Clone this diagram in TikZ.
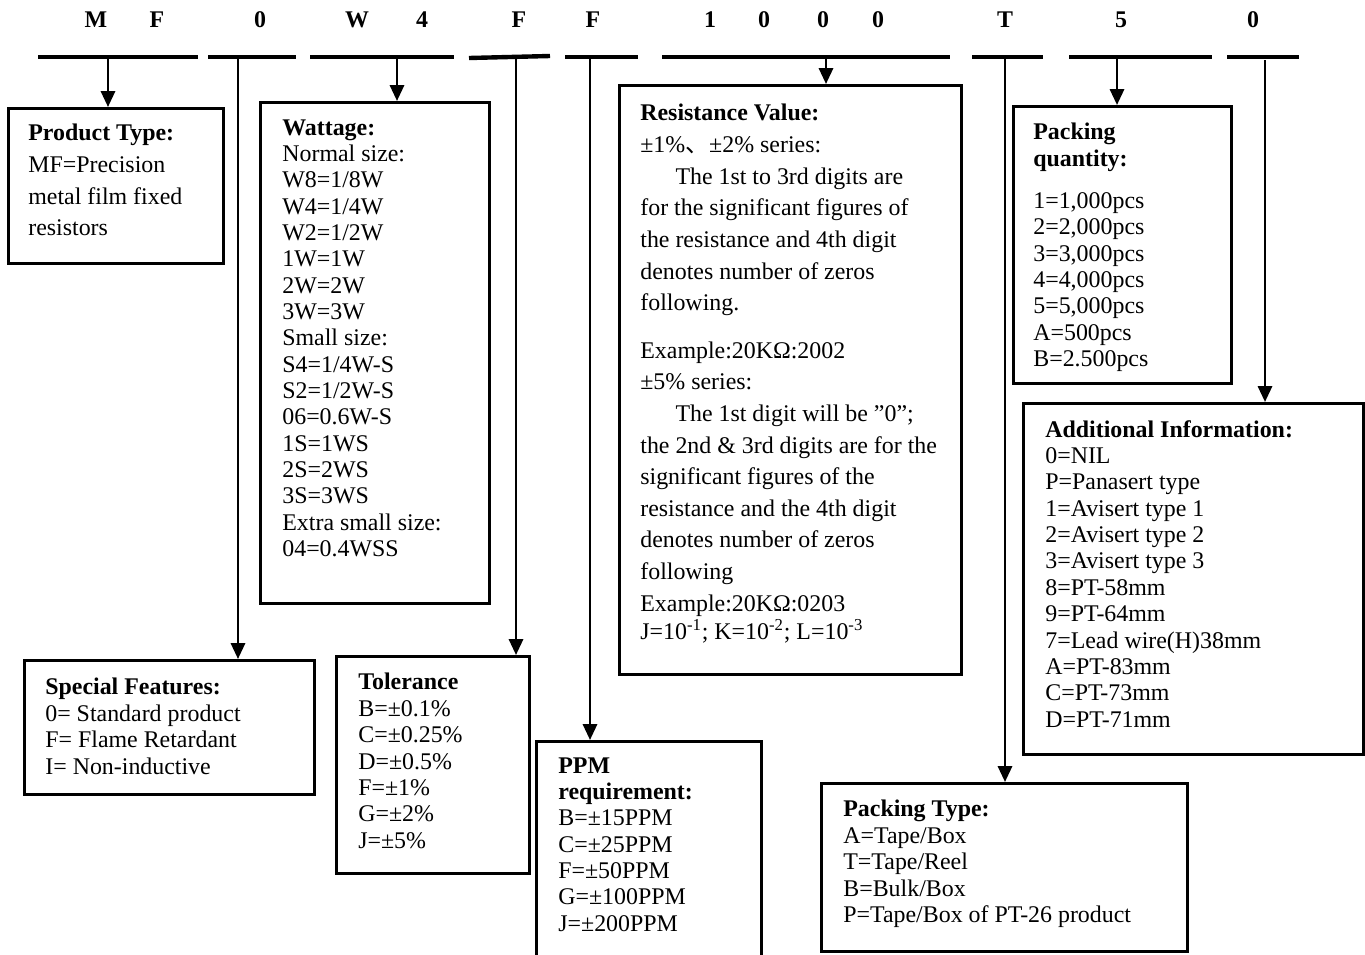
\documentclass[tikz,border=0pt]{standalone}
\usepackage{fontspec}
\setmainfont{Liberation Serif}
\newfontfamily\cjk{Noto Sans CJK SC}
\usepackage{tikz}
\usetikzlibrary{arrows.meta}
\tikzstyle{code} = [font=\fontsize{13.6}{15}\selectfont\bfseries]
\tikzstyle{codebar} = [line width=2.5pt]
\tikzstyle{frame} = [draw, line width=1.9pt, anchor=north west, inner sep=0pt]
\tikzstyle{desc} = [align=left, inner sep=0pt, anchor=north west,
  font=\fontsize{13.6}{15}\selectfont]
\tikzstyle{arrow} = [line width=1.5pt, -{Triangle[length=9pt, width=8pt]}]

\begin{document}
\begin{tikzpicture}[x=0.02cm, y=-0.02cm]
  \useasboundingbox (0,0) rectangle (1365,954);

  % the part number
  \node (c1) [code] at (96,20) {M};
  \node (c2) [code] at (157,20) {F};
  \node (c3) [code] at (260,20) {0};
  \node (c4) [code] at (357,20) {W};
  \node (c5) [code] at (422,20) {4};
  \node (c6) [code] at (519,20) {F};
  \node (c7) [code] at (593,20) {F};
  \node (c8) [code] at (710,20) {1};
  \node (c9) [code] at (764,20) {0};
  \node (c10) [code] at (823,20) {0};
  \node (c11) [code] at (878,20) {0};
  \node (c12) [code] at (1005,20) {T};
  \node (c13) [code] at (1121,20) {5};
  \node (c14) [code] at (1253,20) {0};

  \draw [codebar] (38,57) -- (198,57);
  \draw [codebar] (208,57) -- (296,57);
  \draw [codebar] (310,57) -- (454,57);
  \draw [codebar] (469,58) -- (550,56);
  \draw [codebar] (565,57) -- (638,57);
  \draw [codebar] (662,57) -- (950,57);
  \draw [codebar] (972,57) -- (1043,57);
  \draw [codebar] (1069,57) -- (1212,57);
  \draw [codebar] (1227,57) -- (1299,57);

  \coordinate (b1) at (108,57);
  \coordinate (b2) at (238,57);
  \coordinate (b3) at (397,57);
  \coordinate (b4) at (516,57);
  \coordinate (b5) at (590,57);
  \coordinate (b6) at (826,57);
  \coordinate (b7) at (1005,57);
  \coordinate (b8) at (1117,57);
  \coordinate (b9) at (1265,60);

  % boxes
  \node (prod) [frame, minimum width=4.3cm, minimum height=3.1cm] at (7,107) {};
  \node (watt) [frame, minimum width=4.58cm, minimum height=10.02cm] at (259,101) {};
  \node (spec) [frame, minimum width=5.8cm, minimum height=2.68cm] at (23,659) {};
  \node (tol) [frame, minimum width=3.86cm, minimum height=4.34cm] at (335,655) {};
  \node (ppm) [frame, minimum width=4.5cm, minimum height=4.5cm] at (535,740) {};
  \node (res) [frame, minimum width=6.84cm, minimum height=11.78cm] at (618,84) {};
  \node (pqty) [frame, minimum width=4.36cm, minimum height=5.54cm] at (1012,105) {};
  \node (add) [frame, minimum width=6.8cm, minimum height=7.02cm] at (1022,402) {};
  \node (ptype) [frame, minimum width=7.32cm, minimum height=3.36cm] at (820,782) {};

  \node (prodtxt) [desc, font=\fontsize{13.6}{18}\selectfont] at (28,124)
    {\textbf{Product Type:}\\MF=Precision\\metal film fixed\\resistors};
  \node (watttxt) [desc] at (282,119)
    {\textbf{Wattage:}\\Normal size:\\W8=1/8W\\W4=1/4W\\W2=1/2W\\1W=1W\\2W=2W\\
     3W=3W\\Small size:\\S4=1/4W-S\\S2=1/2W-S\\06=0.6W-S\\1S=1WS\\2S=2WS\\
     3S=3WS\\Extra small size:\\04=0.4WSS};
  \node (spectxt) [desc] at (45,678)
    {\textbf{Special Features:}\\0= Standard product\\F= Flame Retardant\\
     I= Non-inductive};
  \node (toltxt) [desc] at (358,673)
    {\textbf{Tolerance}\\B=±0.1\%\\C=±0.25\%\\D=±0.5\%\\F=±1\%\\G=±2\%\\J=±5\%};
  \node (ppmtxt) [desc] at (558,757)
    {\textbf{PPM}\\\textbf{requirement:}\\B=±15PPM\\C=±25PPM\\F=±50PPM\\
     G=±100PPM\\J=±200PPM};
  \node (restxt) [desc, font=\fontsize{13.6}{18}\selectfont] at (640,104)
    {\textbf{Resistance Value:}\\
     ±1\%{\cjk 、}±2\% series:\\
     \hspace*{20pt}The 1st to 3rd digits are\\
     for the significant figures of\\
     the resistance and 4th digit\\
     denotes number of zeros\\
     following.\\[9pt]
     Example:20KΩ:2002\\
     ±5\% series:\\
     \hspace*{20pt}The 1st digit will be ”0”;\\
     the 2nd \& 3rd digits are for the\\
     significant figures of the\\
     resistance and the 4th digit\\
     denotes number of zeros\\
     following\\
     Example:20KΩ:0203\\[-2pt]
     J=10\textsuperscript{-1}; K=10\textsuperscript{-2}; L=10\textsuperscript{-3}};
  \node (pqtytxt) [desc] at (1033,123)
    {\textbf{Packing}\\\textbf{quantity:}\\[9pt]1=1,000pcs\\2=2,000pcs\\
     3=3,000pcs\\4=4,000pcs\\5=5,000pcs\\A=500pcs\\B=2.500pcs};
  \node (addtxt) [desc] at (1045,420)
    {\textbf{Additional Information:}\\0=NIL\\P=Panasert type\\
     1=Avisert type 1\\2=Avisert type 2\\3=Avisert type 3\\8=PT-58mm\\
     9=PT-64mm\\7=Lead wire(H)38mm\\A=PT-83mm\\C=PT-73mm\\D=PT-71mm};
  \node (ptypetxt) [desc] at (843,800)
    {\textbf{Packing Type:}\\A=Tape/Box\\T=Tape/Reel\\B=Bulk/Box\\
     P=Tape/Box of PT-26 product};

  % connectors
  \draw [arrow] (b1) -- (b1 |- prod.north);
  \draw [arrow] (b2) -- (b2 |- spec.north);
  \draw [arrow] (b3) -- (b3 |- watt.north);
  \draw [arrow] (b4) -- (b4 |- tol.north);
  \draw [arrow] (b5) -- (b5 |- ppm.north);
  \draw [arrow] (b6) -- (b6 |- res.north);
  \draw [arrow] (b7) -- (b7 |- ptype.north);
  \draw [arrow] (b8) -- (b8 |- pqty.north);
  \draw [arrow] (b9) -- (b9 |- add.north);
\end{tikzpicture}
\end{document}
